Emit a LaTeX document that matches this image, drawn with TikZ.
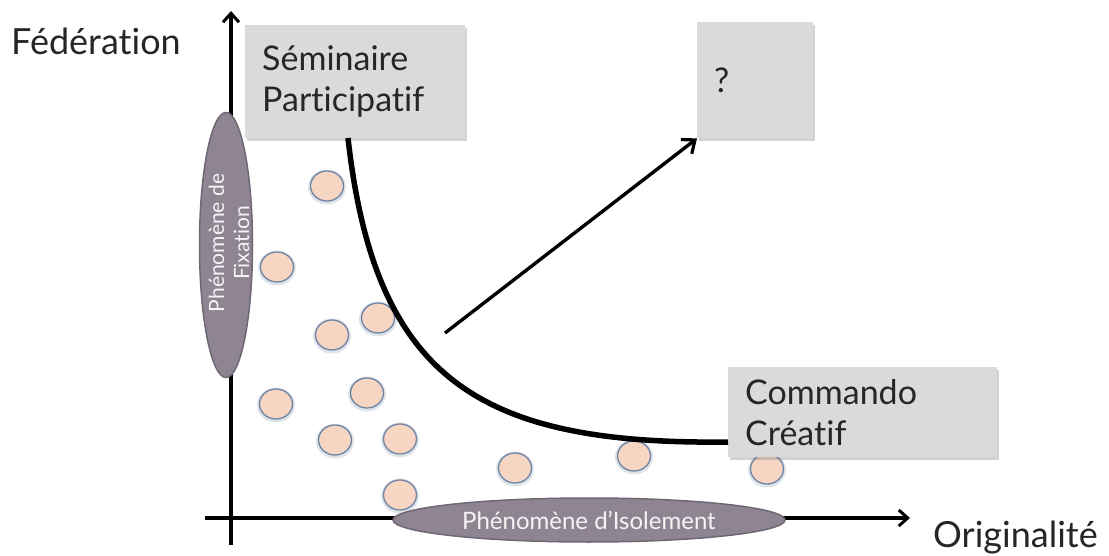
\documentclass[tikz,border=0pt]{standalone}
\usepackage{fontspec}
\setmainfont{Lato}[Ligatures={NoCommon}]
\usetikzlibrary{shadows,arrows.meta,shapes.geometric}
\definecolor{boxgray}{HTML}{DCD9DC}
\definecolor{ellfill}{HTML}{8E8492}
\definecolor{ellline}{HTML}{6F6874}
\definecolor{peach}{HTML}{F6D5C3}
\definecolor{dotline}{HTML}{6E84A3}
\begin{document}
\begin{tikzpicture}[x=1pt,y=-1pt,
  labelbox/.style={rectangle,fill=boxgray,anchor=north west,align=left,inner xsep=17pt,inner ysep=0pt,
    drop shadow={shadow xshift=2pt,shadow yshift=-3pt,opacity=.35,fill=gray},
    font=\fontsize{34}{41}\selectfont,text=black!85},
  dot/.style={ellipse,minimum width=33pt,minimum height=30pt,inner sep=0pt,fill=peach,draw=dotline,line width=1.3pt},
  dotglow/.style={ellipse,minimum width=38pt,minimum height=35pt,inner sep=0pt,fill=dotline!22},
  phen/.style={ellipse,fill=ellfill,draw=ellline,line width=1.5pt,inner sep=0pt,text=white!92!ellfill},
  axis/.style={line width=3.4pt,-{Straight Barb[length=9pt,width=16pt,line width=3pt]}},
  axlabel/.style={font=\fontsize{36}{40}\selectfont,text=black!85}]
\useasboundingbox (0,0) rectangle (1109,556);
% axes
\coordinate (yb) at (231,545);
\coordinate (yt) at (231,11);
\coordinate (xl) at (205,518);
\coordinate (xr) at (910,518);
\draw[axis] (yb) -- (yt);
\draw[axis] (xl) -- (xr);
\node[axlabel,anchor=base west,inner sep=0pt] (fed) at (11,55) {Fédération};
\node[axlabel,anchor=base west,inner sep=0pt] (orig) at (933,547) {Originalité};
% dots
\foreach \n/\x/\y in {d1/327/186,d2/277/267,d3/332/335,d4/378/318,d5/276/404,d6/367/393,d7/335/440,d8/400/439,d9/515/468,d10/400/495,d11/634/456,d12/767/469}{
  \node[dotglow] at (\x,\y+1) {};
  \node[dot] (\n) at (\x,\y) {};
}
% ellipses
\node[phen,minimum width=53pt,minimum height=265pt] (fix) at (226,245) {};
\node[rotate=90,text=white!92!ellfill,align=center,inner sep=0pt,font=\fontsize{21}{25}\selectfont] (fixt) at (229,243) {Phénomène de\\Fixation};
\node[phen,minimum width=392pt,minimum height=44pt,font=\fontsize{24}{26}\selectfont] (iso) at (589,520) {Phénomène d’Isolement};
% boxes
\node[labelbox,minimum width=220pt,minimum height=113pt,text width=186pt] (sem) at (245,25) {Séminaire\\Participatif};
\node[labelbox,minimum width=116pt,minimum height=116pt,text width=82pt] (q) at (697,22) {?};
\node[labelbox,minimum width=269pt,minimum height=90pt,text width=235pt] (com) at (728,367) {Commando\\Créatif};
% curve
\coordinate (cs) at (348,138);
\coordinate (ce) at (728,442);
\draw[line width=5.5pt] (cs) .. controls (375,380) and (480,445) .. (ce);
% arrow
\coordinate (as) at (445,333);
\draw[line width=3.4pt,-{Straight Barb[length=11pt,width=18pt,line width=3.2pt]}] (as) -- (q.south west);
\end{tikzpicture}
\end{document}
